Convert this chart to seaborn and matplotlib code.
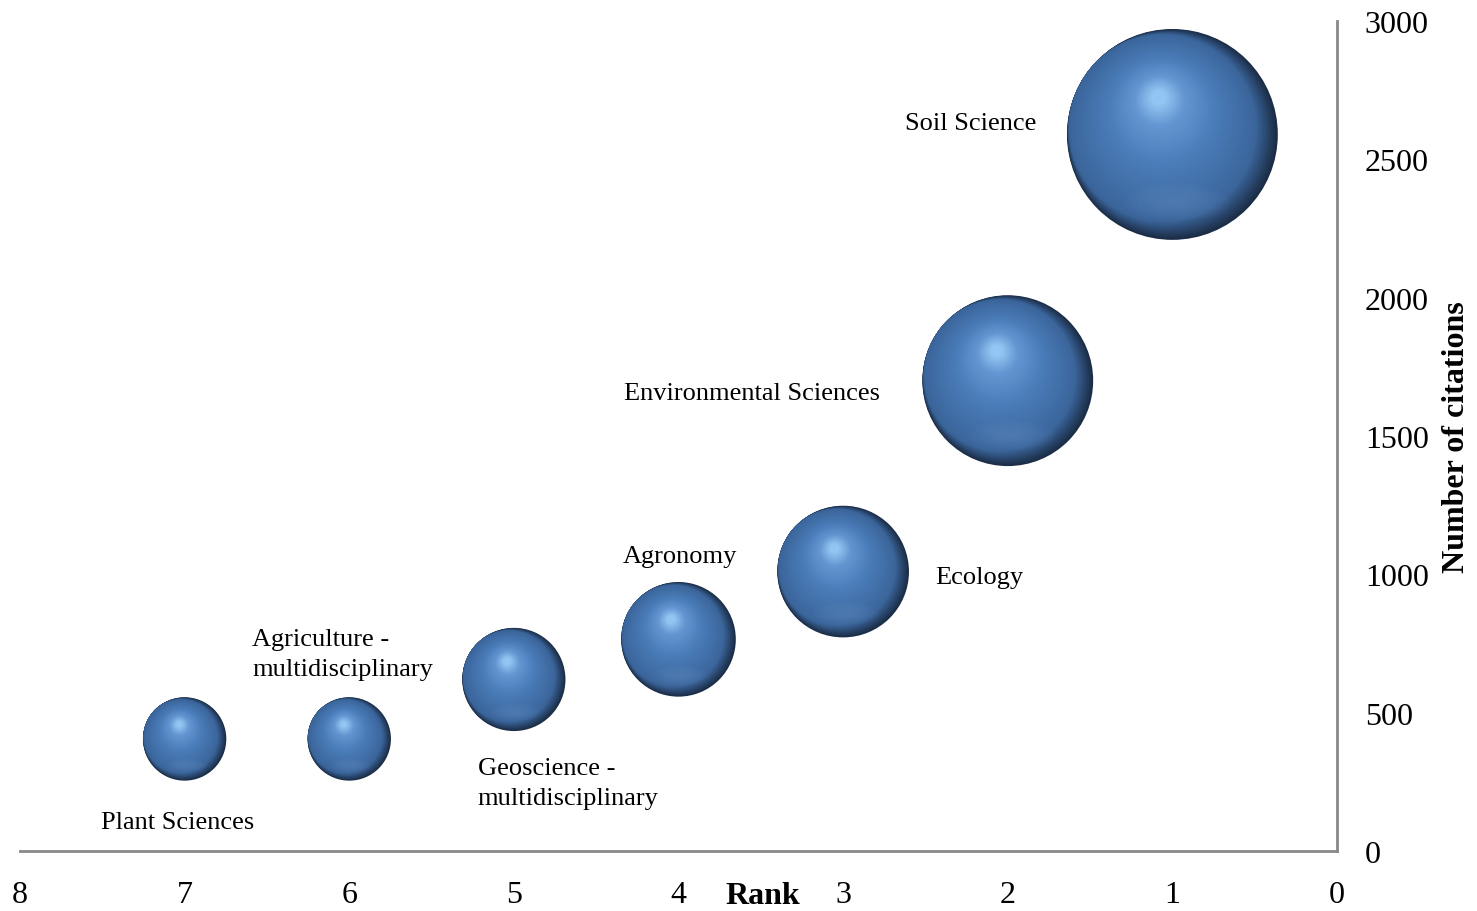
import numpy as np
import pandas as pd
import matplotlib
matplotlib.use("Agg")
import matplotlib.pyplot as plt
from matplotlib.path import Path
from matplotlib.markers import MarkerStyle
from matplotlib.transforms import Affine2D
from matplotlib.colors import to_rgb
import seaborn as sns

# Subject categories ranked by number of citations
categories = ["Soil Science", "Environmental Sciences", "Ecology", "Agronomy",
              "Geoscience - multidisciplinary", "Agriculture - multidisciplinary",
              "Plant Sciences"]
label_text = ["Soil Science", "Environmental Sciences", "Ecology", "Agronomy",
              "Geoscience -\nmultidisciplinary", "Agriculture -\nmultidisciplinary",
              "Plant Sciences"]
ranks = [1, 2, 3, 4, 5, 6, 7]
citations = [2590, 1700, 1010, 765, 620, 405, 405]
x_ticks = [8, 7, 6, 5, 4, 3, 2, 1, 0]
y_ticks = [0, 500, 1000, 1500, 2000, 2500, 3000]

df = pd.DataFrame({"category": categories, "rank": ranks, "citations": citations})

sns.set_theme(style="white")
plt.rcParams["font.family"] = ["Liberation Serif", "DejaVu Serif"]

W, H = 1477, 912
fig = plt.figure(figsize=(W / 100, H / 100), dpi=100)
ax = fig.add_axes([20 / W, 1 - 852 / H, 1317 / W, 830 / H])

# Bubble area proportional to citations
SIZE_MAX = 8.9 * 3000


def shell(cx, cy, rx, ry=None):
    """Ellipse marker offset by (cx, cy) inside a fixed unit frame."""
    ry = rx if ry is None else ry
    ell = Path.unit_circle().transformed(Affine2D().scale(rx, ry).translate(cx, cy))
    verts = np.vstack([[[-1.0, -1.0], [1.0, 1.0]], ell.vertices])
    codes = np.concatenate([[Path.MOVETO, Path.MOVETO], ell.codes])
    return MarkerStyle(Path(verts, codes))


def bubble_layer(marker, color, alpha=1.0):
    sns.scatterplot(data=df, x="rank", y="citations", size="citations",
                    sizes=(0, SIZE_MAX), size_norm=(0, 3000),
                    marker=marker, color=color, alpha=alpha, linewidth=0,
                    edgecolor="none", legend=False, ax=ax)


# Shading keyframes for the glossy sphere look (unit = bubble radius);
# the outer shells stay tangent at the upper left so the dark rim sits
# on the lower right side only
key_u = [0.0, 0.12, 0.5, 0.8, 1.0]
key_cx = [0.0, -0.09, -0.10, -0.12, -0.13]
key_cy = [0.0, 0.06, 0.22, 0.32, 0.35]
key_r = [1.0, 0.892, 0.50, 0.24, 0.07]
key_col = np.array([to_rgb(c) for c in
                    ["#1b2d47", "#3b659b", "#4a7dba", "#6497d2", "#93c5f2"]])

n_layers = 70
for u in np.linspace(0, 1, n_layers):
    cx = np.interp(u, key_u, key_cx)
    cy = np.interp(u, key_u, key_cy)
    r = np.interp(u, key_u, key_r)
    col = [np.interp(u, key_u, key_col[:, i]) for i in range(3)]
    bubble_layer(shell(cx, cy, r), col)

# Soft reflected light near the lower rim
for k in range(8):
    f = 1 - k / 8
    bubble_layer(shell(0.04, -0.64, 0.50 * f, 0.18 * f), "#6f9bd0", alpha=0.05)

# Data labels beside each bubble (offsets in points)
label_pos = {
    "Soil Science": ((-98, 8), "right"),
    "Environmental Sciences": ((-92, -9), "right"),
    "Ecology": ((66, -4), "left"),
    "Agronomy": ((1, 60), "center"),
    "Geoscience - multidisciplinary": ((-26, -74.5), "left"),
    "Agriculture - multidisciplinary": ((-70, 61), "left"),
    "Plant Sciences": ((-5, -60), "center"),
}
for cat, txt, rk, cit in zip(categories, label_text, ranks, citations):
    (dx, dy), ha = label_pos[cat]
    ax.annotate(txt, xy=(rk, cit), xytext=(dx, dy), textcoords="offset points",
                ha=ha, va="center", fontsize=19, color="black",
                multialignment="left", linespacing=1.5)

ax.set_xlim(8, 0)
ax.set_ylim(0, 3000)
ax.set_xticks(x_ticks)
ax.set_yticks(y_ticks)
ax.set_xticklabels([str(t) for t in x_ticks])
ax.set_yticklabels([str(t) for t in y_ticks])
ax.yaxis.tick_right()

for side in ["left", "top"]:
    ax.spines[side].set_visible(False)
for side in ["bottom", "right"]:
    ax.spines[side].set_visible(True)
    ax.spines[side].set_color("#898989")
    ax.spines[side].set_linewidth(2)

ax.tick_params(axis="both", length=0, labelsize=23, labelcolor="black")
ax.tick_params(axis="y", pad=20)
ax.tick_params(axis="x", pad=21)
ax.grid(False)

ax.set_xlabel("Rank", fontsize=23, fontweight="bold", color="black")
ax.xaxis.set_label_coords(0.564, -0.054)
ax.xaxis.label.set_va("center")
ax.xaxis.label.set_ha("center")

ax.yaxis.set_label_position("right")
ax.set_ylabel("Number of citations", fontsize=23, fontweight="bold", color="black")
ax.yaxis.set_label_coords(1.091, 0.5)
ax.yaxis.label.set_va("center")
ax.yaxis.label.set_ha("center")
ax.yaxis.label.set_rotation(90)

fig.savefig("out.png", dpi=100, facecolor="white")
